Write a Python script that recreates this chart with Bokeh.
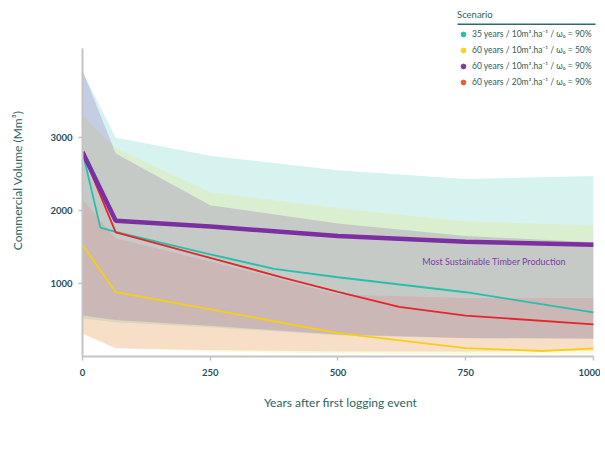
from bokeh.plotting import figure
from bokeh.models import Range1d, FixedTicker, Legend, LegendItem, Label, BoxAnnotation
from bokeh.embed import file_html
from bokeh.resources import INLINE

# ---- data ----
band_x = [0, 65, 250, 500, 750, 1000]
teal_upper = [3900, 3000, 2750, 2550, 2430, 2470]
teal_lower = [520, 470, 400, 290, 250, 240]
yellow_upper = [3300, 2850, 2250, 2030, 1850, 1795]
yellow_lower = [300, 120, 70, 40, 35, 40]
purple_upper = [3920, 2780, 2070, 1820, 1650, 1565]
purple_lower = [560, 500, 420, 300, 255, 245]
red_upper = [2150, 1620, 1300, 850, 800, 800]
red_lower = [320, 110, 90, 70, 70, 80]

teal_x = [0, 35, 65, 250, 375, 500, 750, 1000]
teal_y = [2800, 1765, 1705, 1400, 1200, 1085, 880, 605]
red_x = [0, 65, 250, 390, 500, 620, 750, 1000]
red_y = [2800, 1700, 1350, 1085, 885, 680, 560, 440]
purple_x = [0, 65, 250, 500, 750, 1000]
purple_y = [2800, 1860, 1780, 1650, 1570, 1530]
yellow_x = [0, 65, 250, 500, 750, 900, 1000]
yellow_y = [1530, 880, 645, 320, 115, 75, 110]

x_ticks = [0, 250, 500, 750, 1000]
y_ticks = [1000, 2000, 3000]

scenario_labels = [
    "35 years / 10m³.ha⁻¹ / ω₀ = 90%",
    "60 years / 10m³.ha⁻¹ / ω₀ = 50%",
    "60 years / 10m³.ha⁻¹ / ω₀ = 90%",
    "60 years / 20m³.ha⁻¹ / ω₀ = 90%",
]
annotation_text = "Most Sustainable Timber Production"

FONT = "Lato"
TEAL = "#27bfa9"
YELLOW = "#f5cf16"
PURPLE = "#7b2fa0"
RED = "#e4262c"
TEXT = "#2b6663"
NAN = float("nan")

p = figure(width=600, height=452, output_backend="svg", toolbar_location=None,
           x_range=Range1d(0, 1010), y_range=Range1d(0, 4820),
           min_border_left=82, min_border_right=2, min_border_top=4, min_border_bottom=96)
p.outline_line_color = None
p.grid.visible = False
p.background_fill_color = "white"
p.border_fill_color = "white"

# bands
p.varea(x=band_x, y1=teal_lower, y2=teal_upper, fill_color="#37c3b4", fill_alpha=0.2)
p.varea(x=band_x, y1=yellow_lower, y2=yellow_upper, fill_color="#e2e34c", fill_alpha=0.2)
p.varea(x=band_x, y1=purple_lower, y2=purple_upper, fill_color="#7d37aa", fill_alpha=0.2)
p.varea(x=band_x, y1=red_lower, y2=red_upper, fill_color="#ee4a55", fill_alpha=0.15)

# lines
p.line(teal_x, teal_y, line_color=TEAL, line_width=1.8)
p.line(yellow_x, yellow_y, line_color=YELLOW, line_width=1.8)
p.line(red_x, red_y, line_color=RED, line_width=1.8)
p.line(purple_x, purple_y, line_color=PURPLE, line_width=4.5)

# axes
for ax in (p.xaxis[0], p.yaxis[0]):
    ax.axis_line_color = "#c4c4c4"
    ax.axis_line_width = 2
    ax.major_tick_line_color = "#c4c4c4"
    ax.major_tick_line_width = 1.5
    ax.major_tick_out = 4
    ax.major_tick_in = 0
    ax.minor_tick_line_color = None
    ax.major_label_text_font = FONT
    ax.major_label_text_font_style = "bold"
    ax.major_label_text_font_size = "9.5px"
    ax.major_label_text_color = "#1f4f5c"
    ax.axis_label_text_font = FONT
    ax.axis_label_text_font_style = "normal"
    ax.axis_label_text_font_size = "12px"
    ax.axis_label_text_color = TEXT

p.xaxis.ticker = FixedTicker(ticks=x_ticks)
p.yaxis.ticker = FixedTicker(ticks=y_ticks)
p.xaxis.bounds = (0, 1000)
p.yaxis.bounds = (0, 4220)
p.xaxis.axis_label = "Years after first logging event"
p.yaxis.axis_label = "Commercial Volume (Mm³)"
p.xaxis.major_label_standoff = 8
p.xaxis.axis_label_standoff = 16
p.yaxis.major_label_standoff = 6
p.yaxis.axis_label_standoff = 22

# annotation
p.add_layout(Label(x=665, y=1300, text=annotation_text, text_font=FONT,
                   text_font_size="9px", text_color="#7b3fa3",
                   text_align="left", text_baseline="middle"))

# legend (proxy renderers carry only the legend colours)
leg_colors = [TEAL, "#fad40f", "#7e3a9e", "#f05a2a"]
items = []
for lab, c in zip(scenario_labels, leg_colors):
    r = p.scatter(x=[NAN], y=[NAN], marker="circle", size=10, fill_color=c, line_color=c)
    items.append(LegendItem(label=lab, renderers=[r]))
legend = Legend(items=items, location=(375, 267), title="Scenario",
                background_fill_alpha=0, border_line_color=None,
                label_text_font=FONT, label_text_font_size="8.5px", label_text_color="#2f5d5a",
                title_text_font=FONT, title_text_font_size="9.5px", title_text_font_style="normal",
                title_text_color=TEXT, glyph_width=12, glyph_height=14, label_height=14,
                spacing=2, padding=2, margin=0, label_standoff=3, title_standoff=7)
p.add_layout(legend)

p.add_layout(BoxAnnotation(left=457, right=595, top=23, bottom=24.5,
                           left_units="canvas", right_units="canvas",
                           top_units="canvas", bottom_units="canvas",
                           fill_color="#2d6a6a", fill_alpha=1, line_color=None))

open("out.html", "w").write(file_html(p, INLINE))
